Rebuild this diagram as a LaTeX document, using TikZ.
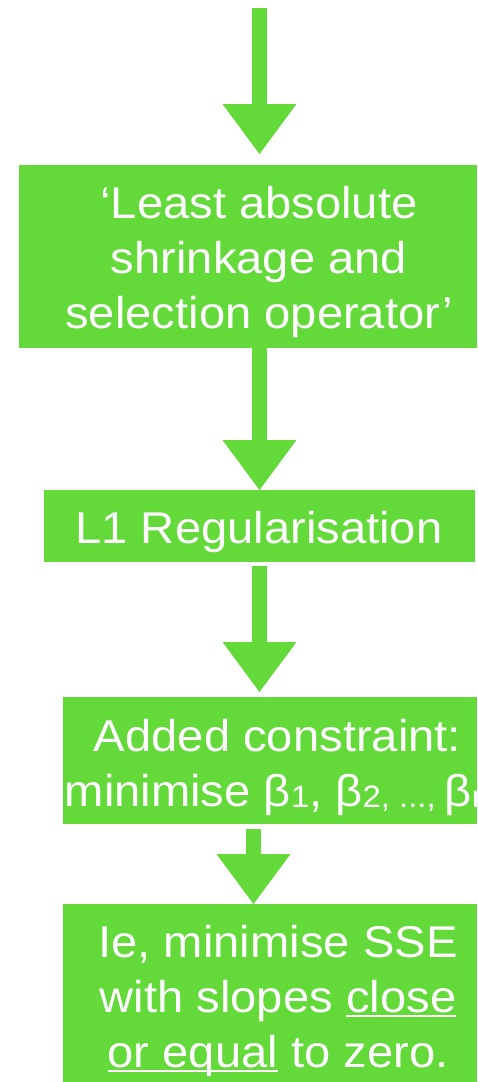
\documentclass[tikz,border=0pt]{standalone}
\usepackage{fontspec}
\newfontfamily\hv[FakeStretch=1.06]{Liberation Sans}
\usetikzlibrary{arrows.meta}
\definecolor{kgreen}{RGB}{99,217,58}
\newcommand\ulx[1]{\setbox0=\hbox{#1}\rlap{\rule[-5pt]{\wd0}{2pt}}\box0{}}
\newcommand\sbx[1]{{\fontsize{31}{31}\selectfont\raisebox{-1.5pt}{#1}}}
\begin{document}
\begin{tikzpicture}[x=1pt,y=-1pt,
  box/.style={fill=kgreen, draw=none, inner sep=0pt, anchor=north west},
  txt/.style={text=white, font=\hv\fontsize{44.5}{55}\selectfont, align=center, inner sep=0pt, anchor=base},
  flow/.style={draw=kgreen, line width=15pt, -{Triangle[width=74pt,length=50pt,line width=0pt]}}]
\useasboundingbox (0,0) rectangle (477,1082);
\coordinate (ax) at (259.5,0);
\coordinate (bx) at (253.5,0);
\coordinate (start) at (259.5,8);
% boxes
\node[box, minimum width=458pt, minimum height=183pt] (b1) at (19,165) {};
\node[box, minimum width=431pt, minimum height=72pt] (b2) at (44,490) {};
\node[box, minimum width=414pt, minimum height=127pt] (b3) at (63,697) {};
\node[box, minimum width=414pt, minimum height=178pt] (b4) at (63,904) {};
% texts (anchor = baseline of the last line)
\node[txt] (t1) at (259,328) {‘Least absolute\\shrinkage and\\selection operator’};
\node[txt] (t2) at (259,543) {L1 Regularisation};
\node[txt] (t3) at (277.5,806) {Added constraint:\\minimise β\sbx{1}, β\sbx{2, ..., }β\sbx{n}};
\node[txt] (t4) at (278,1067) {Ie, minimise SSE\\with slopes \ulx{close}\\\ulx{or equal} to zero.};
% connectors
\draw[flow, shorten >=11pt] (start) -- (b1.north -| ax);
\draw[flow] (b1.south -| ax) -- (b2.north -| ax);
\draw[flow, shorten <=4pt, shorten >=5pt] (b2.south -| ax) -- (b3.north -| ax);
\draw[flow, shorten <=5pt] (b3.south -| bx) -- (b4.north -| bx);
\end{tikzpicture}
\end{document}
